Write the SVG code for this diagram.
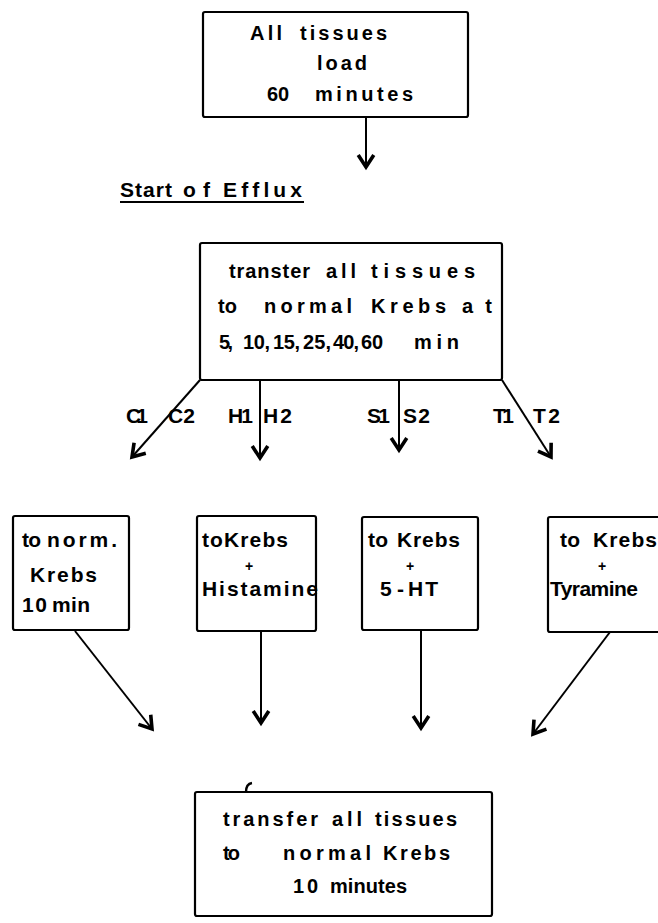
<svg xmlns="http://www.w3.org/2000/svg" width="658" height="923" viewBox="0 0 658 923">
<style>
.box{fill:#fff;stroke:#000;stroke-width:2.2}
.t{font-family:"Liberation Sans",Arial,sans-serif;font-weight:bold;font-size:20px;fill:#000}
.s{font-size:21px}
.l{font-size:21px}
.p{font-size:14px}
.c{fill:none;stroke:#000;stroke-width:2}
</style>
<defs>
<marker id="ah" markerUnits="userSpaceOnUse" markerWidth="24" markerHeight="24" viewBox="-13 -10 16 20" refX="0" refY="0" orient="auto" overflow="visible">
<path d="M-10,-6.5 L0,0 L-10,6.5" fill="none" stroke="#000" stroke-width="3"/>
</marker>
</defs>
<rect width="658" height="923" fill="#fff"/>

<g id="connectors">
<line class="c" x1="366" y1="117" x2="366" y2="167" marker-end="url(#ah)"/>
<line class="c" x1="200" y1="380" x2="132" y2="457" marker-end="url(#ah)"/>
<line class="c" x1="260" y1="380" x2="260" y2="458" marker-end="url(#ah)"/>
<line class="c" x1="399" y1="380" x2="399" y2="450" marker-end="url(#ah)"/>
<line class="c" x1="502" y1="380" x2="551" y2="457" marker-end="url(#ah)"/>
<line class="c" x1="75" y1="631" x2="152" y2="729" marker-end="url(#ah)"/>
<line class="c" x1="261" y1="631" x2="261" y2="723" marker-end="url(#ah)"/>
<line class="c" x1="421" y1="631" x2="421" y2="728" marker-end="url(#ah)"/>
<line class="c" x1="610" y1="632" x2="533" y2="734" marker-end="url(#ah)"/>
<g class="t l">
<text x="126" y="423" textLength="22" lengthAdjust="spacing">C1</text>
<text x="168" y="423" textLength="27" lengthAdjust="spacing">C2</text>
<text x="228" y="423" textLength="25" lengthAdjust="spacing">H1</text>
<text x="263" y="423" textLength="29" lengthAdjust="spacing">H2</text>
<text x="367" y="423" textLength="23" lengthAdjust="spacing">S1</text>
<text x="403" y="423" textLength="27" lengthAdjust="spacing">S2</text>
<text x="493" y="423" textLength="21" lengthAdjust="spacing">T1</text>
<text x="533" y="423" textLength="27" lengthAdjust="spacing">T2</text>
</g>
</g>

<g id="load">
<rect class="box" x="203" y="12" width="265" height="105" rx="2"/>
<g class="t">
<text x="250" y="40" textLength="32" lengthAdjust="spacing">All</text>
<text x="300" y="40" textLength="87" lengthAdjust="spacing">tissues</text>
<text x="317" y="70" textLength="50" lengthAdjust="spacing">load</text>
<text x="267" y="101" textLength="22" lengthAdjust="spacing">60</text>
<text x="315" y="101" textLength="98" lengthAdjust="spacing">minutes</text>
</g>
</g>

<g id="start-efflux">
<g class="t s">
<text x="120" y="197" textLength="52" lengthAdjust="spacing">Start</text>
<text x="183" y="197" textLength="27" lengthAdjust="spacing">of</text>
<text x="223" y="197" textLength="79" lengthAdjust="spacing">Efflux</text>
</g>
<line x1="120" y1="202" x2="304" y2="202" stroke="#000" stroke-width="2"/>
</g>

<g id="transfer1">
<rect class="box" x="200" y="243" width="302" height="137" rx="2"/>
<g class="t">
<text x="229" y="278" textLength="81" lengthAdjust="spacing">transter</text>
<text x="326" y="278" textLength="30" lengthAdjust="spacing">all</text>
<text x="371" y="278" textLength="104" lengthAdjust="spacing">tissues</text>
<text x="218" y="313" textLength="19" lengthAdjust="spacing">to</text>
<text x="264" y="313" textLength="88" lengthAdjust="spacing">normal</text>
<text x="371" y="313" textLength="75" lengthAdjust="spacing">Krebs</text>
<text x="462" y="313" textLength="30" lengthAdjust="spacing">at</text>
<text x="219" y="349" textLength="14" lengthAdjust="spacing">5,</text>
<text x="243" y="349" textLength="27" lengthAdjust="spacing">10,</text>
<text x="273" y="349" textLength="27" lengthAdjust="spacing">15,</text>
<text x="303" y="349" textLength="28" lengthAdjust="spacing">25,</text>
<text x="333" y="349" textLength="26" lengthAdjust="spacing">40,</text>
<text x="361" y="349" textLength="22" lengthAdjust="spacing">60</text>
<text x="414" y="349" textLength="45" lengthAdjust="spacing">min</text>
</g>
</g>

<g id="control">
<rect class="box" x="13" y="516" width="116" height="114" rx="2"/>
<g class="t s">
<text x="22" y="547" textLength="19" lengthAdjust="spacing">to</text>
<text x="47" y="547" textLength="70" lengthAdjust="spacing">norm.</text>
<text x="30" y="582" textLength="67" lengthAdjust="spacing">Krebs</text>
<text x="22" y="612" textLength="25" lengthAdjust="spacing">10</text>
<text x="52" y="612" textLength="38" lengthAdjust="spacing">min</text>
</g>
</g>

<g id="histamine">
<rect class="box" x="197" y="516" width="119" height="115" rx="2"/>
<g class="t s">
<text x="202" y="547" textLength="86" lengthAdjust="spacing">toKrebs</text>
<text class="t p" x="249" y="571" text-anchor="middle">+</text>
<text x="202" y="596" textLength="116" lengthAdjust="spacing">Histamine</text>
</g>
</g>

<g id="serotonin">
<rect class="box" x="362" y="517" width="116" height="113" rx="2"/>
<g class="t s">
<text x="368" y="547" textLength="20" lengthAdjust="spacing">to</text>
<text x="397" y="547" textLength="63" lengthAdjust="spacing">Krebs</text>
<text class="t p" x="410" y="571" text-anchor="middle">+</text>
<text x="380" y="596">5</text>
<text x="397" y="596">-</text>
<text x="408" y="596" textLength="30" lengthAdjust="spacing">HT</text>
</g>
</g>

<g id="tyramine">
<rect class="box" x="548" y="517" width="120" height="115" rx="2"/>
<g class="t s">
<text x="560" y="547" textLength="20" lengthAdjust="spacing">to</text>
<text x="593" y="547" textLength="64" lengthAdjust="spacing">Krebs</text>
<text class="t p" x="602" y="571" text-anchor="middle">+</text>
<text x="550" y="596" textLength="88" lengthAdjust="spacing">Tyramine</text>
</g>
</g>

<g id="transfer2">
<rect class="box" x="195" y="792" width="297" height="124" rx="2"/>
<path d="M246,792 Q246,784 252,783" fill="none" stroke="#000" stroke-width="2.4"/>
<g class="t">
<text x="223" y="826" textLength="95" lengthAdjust="spacing">transfer</text>
<text x="332" y="826" textLength="30" lengthAdjust="spacing">all</text>
<text x="375" y="826" textLength="82" lengthAdjust="spacing">tissues</text>
<text x="223" y="860" textLength="17" lengthAdjust="spacing">to</text>
<text x="283" y="860" textLength="88" lengthAdjust="spacing">normal</text>
<text x="383" y="860" textLength="67" lengthAdjust="spacing">Krebs</text>
<text x="293" y="893" textLength="25" lengthAdjust="spacing">10</text>
<text x="330" y="893" textLength="77" lengthAdjust="spacing">minutes</text>
</g>
</g>
</svg>
